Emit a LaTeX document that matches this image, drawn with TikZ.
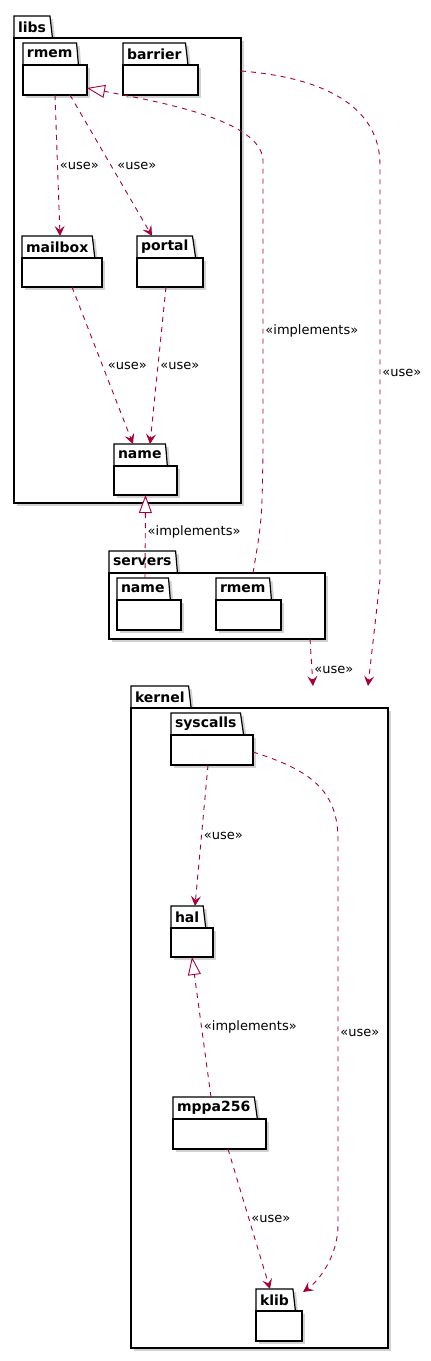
\documentclass[tikz,border=0pt]{standalone}
\usepackage{fontspec}
\setmainfont{DejaVu Sans}
\usetikzlibrary{arrows.meta,shapes.geometric,shadows}
\definecolor{umlred}{HTML}{A80036}
\tikzset{
pkgline/.style={draw, line width=1.2pt, fill=white, outer sep=0pt,
  drop shadow={shadow xshift=3pt, shadow yshift=-3pt, fill=black!35}},
pkgtab/.style={pkgline, trapezium, trapezium left angle=90, trapezium right angle=77,
  trapezium stretches body, minimum height=22pt, inner xsep=4pt, inner ysep=0pt,
  anchor=bottom left corner, font=\bfseries\fontsize{14}{16}\selectfont},
pkgbody/.style={pkgline, rectangle, inner sep=0pt, anchor=north west},
dep/.style={umlred, line width=0.9pt, dash pattern=on 5pt off 5pt},
use/.style={dep, -{Stealth[length=10pt, width=10pt, inset=4pt]}},
impl/.style={dep, -{Triangle[open, length=18pt, width=13pt, fill=white]}},
lbl/.style={font=\fontsize{13}{15}\selectfont, text=black, anchor=west, inner sep=2pt}
}
\newcommand{\pkg}[6]{
\node[pkgtab] (#1t) at (#3,#4) {#2};
\node[pkgbody, minimum width=#5pt, minimum height=#6pt] (#1) at (#3,#4) {};
}
\begin{document}
\begin{tikzpicture}[x=1pt, y=-1pt]
\useasboundingbox (0,0) rectangle (431,1361);

\pkg{libs}{libs}{14}{38}{227}{465}
\pkg{rmem}{rmem}{23}{65}{64}{30}
\pkg{barrier}{barrier}{123}{65}{75}{30}
\pkg{mailbox}{mailbox}{22}{258}{80}{29}
\pkg{portal}{portal}{137}{258}{66}{29}
\pkg{name}{name}{114}{466}{63}{29}

\pkg{servers}{servers}{109}{573}{216}{66}
\pkg{sname}{name}{117}{600}{64}{30}
\pkg{srmem}{rmem}{216}{600}{65}{30}

\pkg{kernel}{kernel}{131}{708}{257}{640}
\pkg{syscalls}{syscalls}{171}{735}{82}{30}
\pkg{hal}{hal}{171}{928}{42}{29}
\pkg{mppa}{mppa256}{173}{1119}{93}{30}
\pkg{klib}{klib}{256}{1311}{46}{30}

\draw[use] ([xshift=32pt]rmem.south west) -- node[lbl] {«use»} ([xshift=38pt]mailboxt.top left corner);
\draw[use] ([xshift=47pt]rmem.south west) -- node[lbl, xshift=4pt] {«use»} ([xshift=15pt]portalt.top left corner);
\draw[use] ([xshift=50pt]mailbox.south west) -- node[lbl, xshift=3pt] {«use»} ([xshift=19pt]namet.top left corner);
\draw[use] ([xshift=29pt]portal.south west) -- node[lbl] {«use»} ([xshift=36pt]namet.top left corner);
\draw[impl] ([xshift=28pt]snamet.top left corner) -- node[lbl, pos=0.55] {«implements»} (name.south);
\draw[impl] ([xshift=144pt]servers.north west) .. controls (262,520) .. (263,450)
  -- node[lbl, pos=0.41] {«implements»} (263,160)
  .. controls (261,120) and (160,102) .. ([yshift=-8pt]rmem.east);
\draw[use] ([yshift=-33pt]libs.north east) .. controls (330,78) and (380,110) .. (380,165)
  -- node[lbl] {«use»} (380,580) -- ([xshift=237pt]kernelt.top left corner);
\draw[use] ([xshift=-15pt]servers.south east) -- node[lbl, pos=0.65] {«use»} ([xshift=182pt]kernelt.top left corner);

\draw[use] ([xshift=37pt]syscalls.south west) -- node[lbl] {«use»} ([xshift=24pt]halt.top left corner);
\draw[use] ([yshift=-2pt]syscalls.east) .. controls (310,770) and (338,790) .. (338,840)
  -- node[lbl] {«use»} (338,1225) .. controls (338,1255) and (320,1280) .. ([xshift=1pt,yshift=19pt]klib.north east);
\draw[impl] ([xshift=38pt]mppat.top left corner) -- node[lbl] {«implements»} (hal.south);
\draw[use] ([xshift=55pt]mppa.south west) -- node[lbl] {«use»} ([xshift=14pt]klibt.top left corner);
\end{tikzpicture}
\end{document}
